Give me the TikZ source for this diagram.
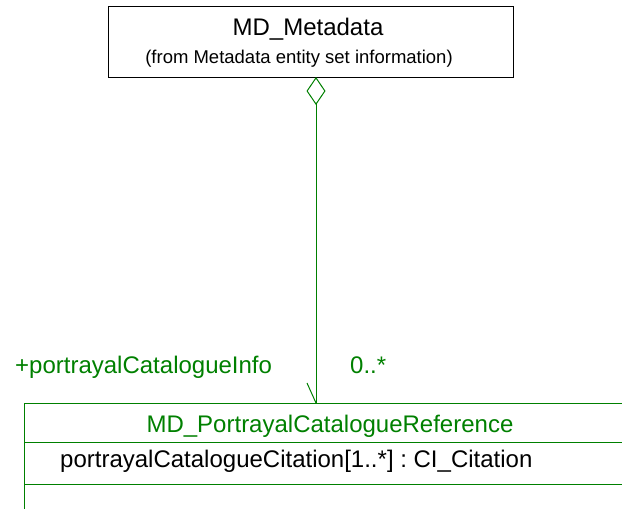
\documentclass[tikz,border=0pt]{standalone}
\usepackage{fontspec}
\setmainfont{Liberation Sans}
\usetikzlibrary{arrows.meta}
\definecolor{umlgreen}{RGB}{0,128,0}
\newcommand{\bigtext}{\fontsize{24}{28}\selectfont\frenchspacing}
\newcommand{\smalltext}{\fontsize{18.5}{22}\selectfont\frenchspacing}

\begin{document}
\begin{tikzpicture}[x=1pt,y=-1pt,
		txt/.style={inner sep=0pt,font=\bigtext},
		assoc/.style={draw=umlgreen,line width=1pt},
		cls/.style={draw,line width=1pt,inner sep=0pt}]
				\useasboundingbox (0,0) rectangle (622,509);
				\clip (0,0) rectangle (622,509);
				\node[cls,minimum width=405pt,minimum height=71pt] (meta) at (310.5,41.5) {};
				\node[txt,anchor=base] (metaname) at (308,35) {MD\_Metadata};
				\node[txt,anchor=base,font=\smalltext] (metafrom) at (299,63) {(from Metadata entity set information)};
				\node[cls,draw=umlgreen,minimum width=640pt,minimum height=140pt,anchor=north west] (ref) at (24,403) {};
				\coordinate (sep1) at (24,442);
				\coordinate (sep2) at (24,484);
				\draw[assoc] (sep1) -- (sep1 -| ref.east);
				\draw[assoc] (sep2) -- (sep2 -| ref.east);
				\node[txt,anchor=base,text=umlgreen] (refname) at (330,432) {MD\_PortrayalCatalogueReference};
				\node[txt,anchor=base west] (refattr) at (60,467) {portrayalCatalogueCitation[1..*] : CI\_Citation};
				\coordinate (agg) at (316,77);
				\coordinate (nav) at (316,403);
				\draw[assoc,{Diamond[open,length=28pt,width=19pt]}-] (agg) -- (nav);
				\draw[assoc] (nav) -- ++(-9,-20);
				\node[txt,anchor=base west,text=umlgreen] (role) at (15,373) {+portrayalCatalogueInfo};
				\node[txt,anchor=base west,text=umlgreen] (mult) at (350,373) {0..*};
			\end{tikzpicture}
\end{document}
